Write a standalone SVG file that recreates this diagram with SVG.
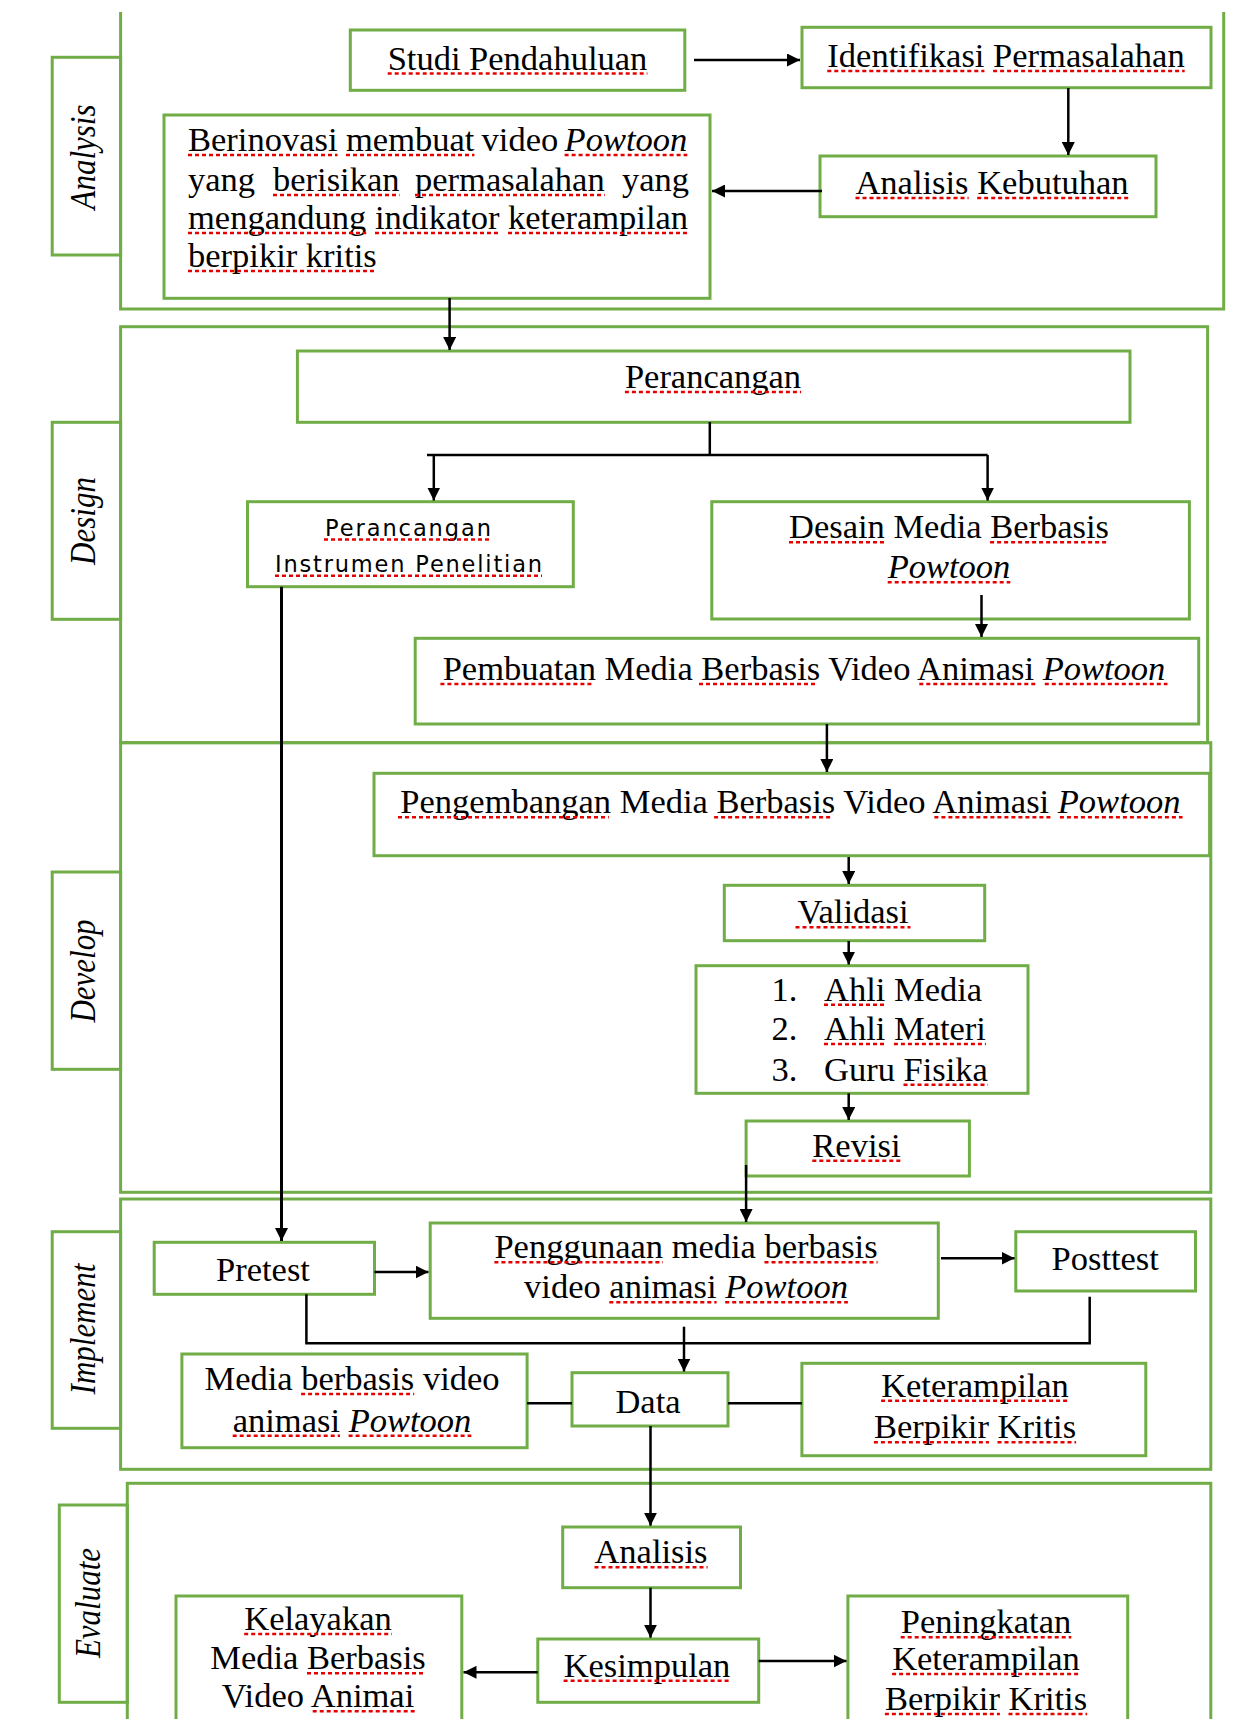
<svg xmlns="http://www.w3.org/2000/svg" width="1233" height="1719" viewBox="0 0 1233 1719">
<defs>
<marker id="ah" viewBox="0 0 12 12" refX="12" refY="6" markerWidth="13" markerHeight="13" markerUnits="userSpaceOnUse" orient="auto"><path d="M0,0 L12,6 L0,12 Z" fill="#000"/></marker>
<style>
.box{fill:none;stroke:#70AD47;stroke-width:3}
.t{font-family:"Liberation Serif","Times New Roman",serif;font-size:34.5px;fill:#000}
.c{text-anchor:middle}
.i{font-style:italic}
.s{font-family:"DejaVu Sans","Liberation Sans",Arial,sans-serif;font-size:22.5px;fill:#000}
.lab{font-family:"Liberation Serif","Times New Roman",serif;font-size:31px;font-style:italic;text-anchor:middle;fill:#000}
.con{fill:none;stroke:#000;stroke-width:2.5}
.arr{marker-end:url(#ah)}
.sq{fill:none;stroke:#e60000;stroke-width:2.5;stroke-dasharray:4 3}
</style>
</defs>
<rect width="1233" height="1719" fill="#fff"/>

<g id="frames">
<path class="box" d="M120.6,12 V309 H1223.7 V12"/>
<rect class="box" x="120.6" y="326.7" width="1087" height="416"/>
<rect class="box" x="120.6" y="742.7" width="1090.2" height="449.6"/>
<rect class="box" x="120.6" y="1199" width="1090.2" height="270.3"/>
<rect class="box" x="127.3" y="1483.3" width="1083.5" height="270"/>
</g>

<g id="tab-analysis"><rect class="box" x="52.2" y="57.3" width="68.4" height="197.7"/><text class="lab" transform="translate(95,157) rotate(-90) scale(1,1.18)">Analysis</text></g>
<g id="tab-design"><rect class="box" x="52.2" y="422.3" width="68.4" height="197"/><text class="lab" transform="translate(95,521) rotate(-90) scale(1,1.18)">Design</text></g>
<g id="tab-develop"><rect class="box" x="52.2" y="872" width="68.4" height="197.3"/><text class="lab" transform="translate(95,971) rotate(-90) scale(1,1.18)">Develop</text></g>
<g id="tab-implement"><rect class="box" x="52.2" y="1231.7" width="68.4" height="196.6"/><text class="lab" transform="translate(95,1329) rotate(-90) scale(1,1.18)">Implement</text></g>
<g id="tab-evaluate"><rect class="box" x="59.3" y="1505" width="68" height="197.3"/><text class="lab" transform="translate(100,1603) rotate(-90) scale(1,1.18)">Evaluate</text></g>

<g id="studi"><rect class="box" x="350.3" y="30" width="334.5" height="60.3"/><text class="t c" x="517.5" y="69.5">Studi Pendahuluan</text></g>
<g id="identifikasi"><rect class="box" x="802" y="27.3" width="409" height="60.4"/><text class="t c" x="1006" y="67">Identifikasi Permasalahan</text></g>
<g id="analisis-kebutuhan"><rect class="box" x="820" y="156" width="336" height="60.7"/><text class="t c" x="992" y="194">Analisis Kebutuhan</text></g>
<g id="berinovasi"><rect class="box" x="164" y="115" width="546" height="183.3"/>
<text class="t" y="151"><tspan x="188">Berinovasi</tspan><tspan x="346">membuat</tspan><tspan x="481.6">video</tspan><tspan x="564.6" class="i">Powtoon</tspan></text>
<text class="t" y="191"><tspan x="188">yang</tspan><tspan x="273">berisikan</tspan><tspan x="415">permasalahan</tspan><tspan x="622">yang</tspan></text>
<text class="t" y="229"><tspan x="188">mengandung</tspan><tspan x="375">indikator</tspan><tspan x="508">keterampilan</tspan></text>
<text class="t" x="188" y="267">berpikir kritis</text></g>

<g id="perancangan"><rect class="box" x="297.4" y="351" width="832.6" height="71.3"/><text class="t c" x="713" y="388">Perancangan</text></g>
<g id="instrumen"><rect class="box" x="247.5" y="501.7" width="325.8" height="85"/><text class="s" x="325" y="536" textLength="166" lengthAdjust="spacing">Perancangan</text><text class="s" x="275" y="572" textLength="267" lengthAdjust="spacing">Instrumen Penelitian</text></g>
<g id="desain"><rect class="box" x="711.8" y="501.7" width="477.6" height="117.3"/><text class="t c" x="949" y="538.3">Desain Media Berbasis</text><text class="t c i" x="949" y="578.3">Powtoon</text></g>
<g id="pembuatan"><rect class="box" x="415.2" y="638.3" width="783.5" height="85.7"/><text class="t c" x="804" y="680">Pembuatan Media Berbasis Video Animasi <tspan class="i">Powtoon</tspan></text></g>

<g id="pengembangan"><rect class="box" x="374" y="773.3" width="835.6" height="82.4"/><text class="t c" x="790.4" y="813.3">Pengembangan Media Berbasis Video Animasi <tspan class="i">Powtoon</tspan></text></g>
<g id="validasi"><rect class="box" x="724.3" y="885.3" width="260.4" height="55.4"/><text class="t c" x="853" y="923.3">Validasi</text></g>
<g id="validator"><rect class="box" x="696" y="965.7" width="332" height="127.6"/>
<text class="t" x="771.6" y="1000.7">1.</text><text class="t" x="824" y="1000.7">Ahli Media</text>
<text class="t" x="771.6" y="1040">2.</text><text class="t" x="824" y="1040">Ahli Materi</text>
<text class="t" x="771.6" y="1080.7">3.</text><text class="t" x="824" y="1080.7">Guru Fisika</text></g>
<g id="revisi"><rect class="box" x="746.1" y="1121" width="223.3" height="55"/><text class="t c" x="856.4" y="1156.7">Revisi</text></g>

<g id="pretest"><rect class="box" x="154.2" y="1242.3" width="220.3" height="52"/><text class="t c" x="263" y="1280.7">Pretest</text></g>
<g id="penggunaan"><rect class="box" x="430.2" y="1223" width="508.1" height="95.3"/><text class="t c" x="686" y="1258.3">Penggunaan media berbasis</text><text class="t c" x="686" y="1298.3">video animasi <tspan class="i">Powtoon</tspan></text></g>
<g id="posttest"><rect class="box" x="1015.8" y="1231.7" width="179.7" height="59.3"/><text class="t c" x="1105.2" y="1270">Posttest</text></g>
<g id="media"><rect class="box" x="181.9" y="1354" width="345.2" height="93.7"/><text class="t c" x="352" y="1390">Media berbasis video</text><text class="t c" x="352" y="1431.7">animasi <tspan class="i">Powtoon</tspan></text></g>
<g id="data"><rect class="box" x="572" y="1372.7" width="156" height="53.3"/><text class="t c" x="648" y="1412.7">Data</text></g>
<g id="keterampilan"><rect class="box" x="801.9" y="1363.3" width="343.9" height="92.4"/><text class="t c" x="975" y="1396.7">Keterampilan</text><text class="t c" x="975" y="1438.3">Berpikir Kritis</text></g>

<g id="analisis"><rect class="box" x="562.7" y="1527" width="177.8" height="60.7"/><text class="t c" x="651" y="1563.3">Analisis</text></g>
<g id="kesimpulan"><rect class="box" x="537.8" y="1639" width="220.9" height="63.3"/><text class="t c" x="647" y="1676.7">Kesimpulan</text></g>
<g id="kelayakan"><rect class="box" x="176" y="1596" width="285.8" height="160"/><text class="t c" x="318" y="1630">Kelayakan</text><text class="t c" x="318" y="1669.3">Media Berbasis</text><text class="t c" x="318" y="1707.3">Video Animai</text></g>
<g id="peningkatan"><rect class="box" x="847.9" y="1596" width="279.8" height="160"/><text class="t c" x="986" y="1633.3">Peningkatan</text><text class="t c" x="986" y="1670">Keterampilan</text><text class="t c" x="986" y="1710">Berpikir Kritis</text></g>

<g id="connectors">
<path class="con arr" d="M694,60 H800"/>
<path class="con arr" d="M1068.3,88 V155"/>
<path class="con arr" d="M822,191 H712"/>
<path class="con arr" d="M449.6,298 V350"/>
<path class="con" d="M709.8,422 V455 M427,455 H987.6"/>
<path class="con arr" d="M433.8,455 V500.5"/>
<path class="con arr" d="M987.6,455 V500.5"/>
<path class="con arr" d="M981.5,595 V637"/>
<path class="con arr" d="M826.9,724 V772"/>
<path class="con arr" d="M848.7,857 V884"/>
<path class="con arr" d="M848.7,941 V964.5"/>
<path class="con arr" d="M848.7,1093.3 V1120"/>
<path class="con arr" d="M746.1,1165 V1222"/>
<path class="con arr" style="stroke-width:3" d="M281.5,586.7 V1241"/>
<path class="con arr" d="M374.5,1272 H428.5"/>
<path class="con arr" d="M941,1258.3 H1014.5"/>
<path class="con" d="M306.4,1294.3 V1343.3 H1089.7 V1296.7"/>
<path class="con arr" d="M684,1326.7 V1371.5"/>
<path class="con" d="M527.1,1403.3 H572 M728,1403.3 H801.9"/>
<path class="con arr" d="M650.5,1426 V1525.7"/>
<path class="con arr" d="M650.5,1587.7 V1637.7"/>
<path class="con arr" d="M537.8,1672.3 H463.5"/>
<path class="con arr" d="M758.7,1661 H846.5"/>
</g>

<g id="spellcheck">
<path class="sq" d="M387.7,73.5 H647.4 M827.3,71 H984.4 M993.1,71 H1184.7 M855.5,198 H968.6 M977.2,198 H1128.5
M188,155 H337.5 M346,155 H474.4 M564.6,155 H687.3 M273,195 H399.5 M415,195 H604.7 M188,233 H366.2 M375,233 H499.6 M508,233 H688.1 M188,271 H376.7
M624.9,392 H801.1 M324,539.5 H491.5 M275,575.7 H542 M789,542.3 H884.8 M990.1,542.3 H1108.9 M887.7,582.3 H1010.3
M440.4,684 H593.7 M699,684 H817.8 M919.3,684 H1036.2 M1044.8,684 H1167.5
M398,817.3 H608.8 M714.1,817.3 H832.9 M934.4,817.3 H1051.3 M1059.9,817.3 H1182.6
M795.5,927.3 H910.5 M824,1004.7 H885.3 M824,1044 H885.3 M893.9,1044 H985.9 M903.5,1084.7 H987.9 M812.3,1160.7 H900.5
M494.4,1262.3 H663 M764.5,1262.3 H877.6 M609.3,1302.3 H716.6 M725.2,1302.3 H847.9
M301.1,1394 H414.2 M232.7,1435.7 H340 M348.6,1435.7 H471.3
M881.1,1400.7 H1068.9 M873.9,1442.3 H988.9 M997.5,1442.3 H1076.1
M594.5,1567.3 H707.6 M563.6,1680.7 H730.4
M244.2,1634 H391.8 M307,1673.3 H425.8 M312.7,1711.3 H416.2
M900.7,1637.3 H1071.3 M892.1,1674 H1079.9 M884.9,1714 H999.9 M1008.5,1714 H1087.1"/>
</g>
</svg>
